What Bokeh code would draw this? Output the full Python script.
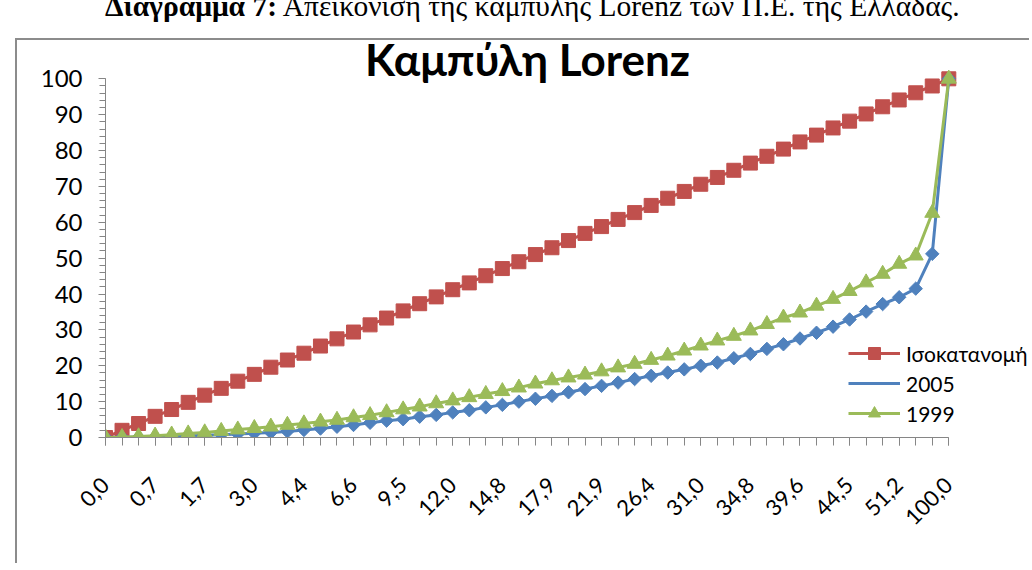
import numpy as np
from bokeh.plotting import figure
from bokeh.layouts import column
from bokeh.models import (ColumnDataSource, Range1d, FixedTicker, SingleIntervalTicker,
                          Legend, LegendItem, Label, Div)
from bokeh.embed import file_html
from bokeh.resources import INLINE

# ---------------- data ----------------
tick_labels = ["0,0", "0,7", "1,7", "3,0", "4,4", "6,6", "9,5", "12,0", "14,8",
               "17,9", "21,9", "26,4", "31,0", "34,8", "39,6", "44,5", "51,2", "100,0"]
tick_positions = list(range(0, 52, 3))
categories = list(range(52))

isokatanomi = [0.0, 2.0, 3.9, 5.9, 7.8, 9.8, 11.8, 13.7, 15.7, 17.6,
               19.6, 21.6, 23.5, 25.5, 27.5, 29.4, 31.4, 33.3, 35.3, 37.3,
               39.2, 41.2, 43.1, 45.1, 47.1, 49.0, 51.0, 52.9, 54.9, 56.9,
               58.8, 60.8, 62.7, 64.7, 66.7, 68.6, 70.6, 72.5, 74.5, 76.5,
               78.4, 80.4, 82.4, 84.3, 86.3, 88.2, 90.2, 92.2, 94.1, 96.1,
               98.0, 100.0]
y2005 = [0.0, 0.05, 0.1, 0.2, 0.3, 0.4, 0.6, 0.8, 1.0, 1.2,
         1.4, 1.7, 2.1, 2.5, 3.0, 3.5, 4.1, 4.7, 5.1, 5.8,
         6.3, 7.0, 7.6, 8.4, 9.1, 10.0, 10.8, 11.6, 12.6, 13.5,
         14.4, 15.3, 16.3, 17.2, 18.1, 19.0, 20.0, 20.9, 22.1, 23.3,
         24.7, 26.0, 27.6, 29.2, 30.9, 32.9, 35.1, 37.2, 39.1, 41.5,
         51.2, 100.0]
y1999 = [0.0, 0.1, 0.3, 0.5, 0.8, 1.1, 1.4, 1.8, 2.2, 2.6,
         3.0, 3.5, 3.9, 4.4, 4.9, 5.6, 6.2, 7.0, 7.8, 8.6,
         9.5, 10.3, 11.2, 12.1, 12.9, 13.9, 15.0, 15.9, 16.7, 17.5,
         18.4, 19.5, 20.5, 21.6, 22.8, 24.2, 25.6, 27.0, 28.3, 29.8,
         31.6, 33.4, 34.8, 36.7, 38.6, 40.8, 43.2, 45.6, 48.4, 50.7,
         62.6, 100.0]

series_names = ["Ισοκατανομή", "2005", "1999"]
title_text = "Καμπύλη Lorenz"
caption_bold = "Διάγραμμα 7:"
caption_rest = "Απεικόνιση της καμπύλης Lorenz των Π.Ε. της Ελλάδας."

RED = "#C0504D"
BLUE = "#4F81BD"
GREEN = "#9BBB59"
AXIS = "#868686"

src = ColumnDataSource(dict(x=categories, iso=isokatanomi, a=y2005, b=y1999))

W, H = 1014, 525
# frame: x=0 at canvas 88, x=51 at canvas 931.3 ; y=0 at canvas 397, y=100 at canvas 38.3
x_end = (W - 88) / ((931.3 - 88) / 51)
y_end = 397 / ((397 - 38.3) / 100)
p = figure(width=W, height=H, output_backend="svg", toolbar_location=None,
           x_range=Range1d(0, x_end), y_range=Range1d(0, y_end),
           min_border_left=88, min_border_right=0, min_border_top=0, min_border_bottom=128,
           styles={"margin-left": "15px", "margin-top": "2px",
                   "border-left": "2px solid #8c8c8c", "border-top": "2px solid #8c8c8c"})
p.outline_line_color = None
p.grid.visible = False
p.background_fill_color = "white"
p.border_fill_color = "white"

# x axis
xa = p.xaxis[0]
xa.ticker = FixedTicker(ticks=tick_positions, minor_ticks=categories)
xa.major_label_overrides = {pos: lab for pos, lab in zip(tick_positions, tick_labels)}
xa.bounds = (0, 51)
xa.major_label_orientation = np.pi / 4
xa.major_label_text_font = "Lato"
xa.major_label_text_font_size = "22px"
xa.major_label_text_color = "black"
xa.major_label_standoff = 36
xa.axis_line_color = AXIS
xa.major_tick_line_color = AXIS
xa.minor_tick_line_color = AXIS
xa.major_tick_in = 0
xa.major_tick_out = 8
xa.minor_tick_in = 0
xa.minor_tick_out = 8

# y axis
ya = p.yaxis[0]
ya.ticker = SingleIntervalTicker(interval=10, num_minor_ticks=5)
ya.bounds = (0, 100)
ya.major_label_text_font = "Lato"
ya.major_label_text_font_size = "24px"
ya.major_label_text_color = "black"
ya.major_label_standoff = 16
ya.axis_line_color = AXIS
ya.major_tick_line_color = AXIS
ya.minor_tick_line_color = AXIS
ya.major_tick_in = 0
ya.major_tick_out = 7
ya.minor_tick_in = 0
ya.minor_tick_out = 6

# series
l_iso = p.line("x", "iso", source=src, line_color=RED, line_width=3)
s_iso = p.scatter("x", "iso", source=src, marker="square", size=14,
                  fill_color=RED, line_color=RED)
l_a = p.line("x", "a", source=src, line_color=BLUE, line_width=3)
s_a = p.scatter("x", "a", source=src, marker="square", size=9.5, angle=np.pi / 4,
                fill_color=BLUE, line_color=BLUE)
l_b = p.line("x", "b", source=src, line_color=GREEN, line_width=3)
s_b = p.scatter("x", "b", source=src, marker="triangle", size=15,
                fill_color=GREEN, line_color=GREEN)
# legend-only diamond glyph (no data)
s_a_leg = p.scatter(x=[], y=[], marker="diamond", size=15, fill_color=BLUE, line_color=BLUE)

legend = Legend(items=[LegendItem(label=series_names[0], renderers=[l_iso, s_iso]),
                       LegendItem(label=series_names[1], renderers=[l_a, s_a_leg]),
                       LegendItem(label=series_names[2], renderers=[l_b, s_b])],
                location=(743, 9), orientation="vertical",
                glyph_width=52, glyph_height=30, label_height=30, spacing=0,
                padding=0, margin=0, label_standoff=6,
                label_text_font="Lato", label_text_font_size="21px",
                label_text_color="black",
                border_line_alpha=0, background_fill_alpha=0)
p.add_layout(legend, "center")

# title (inside the frame, above the 100 line)
p.add_layout(Label(x=25.52, y=105.5, text=title_text,
                   text_align="center", text_baseline="alphabetic",
                   text_font="Lato", text_font_style="bold", text_font_size="44px",
                   text_color="black"))

# caption above the chart box (its top is cut by the window edge, as in the reference)
caption_html = (
    "<div style=\"position:relative; top:-16px; left:100px; white-space:nowrap; "
    "font-family:'Liberation Serif', serif; font-size:29.5px; line-height:34px; color:black;\">"
    f"<b>{caption_bold}</b> {caption_rest}</div>"
)
caption = Div(text=caption_html, width=1000, height=26)

layout = column(caption, p)
open("out.html", "w").write(file_html(layout, INLINE))
